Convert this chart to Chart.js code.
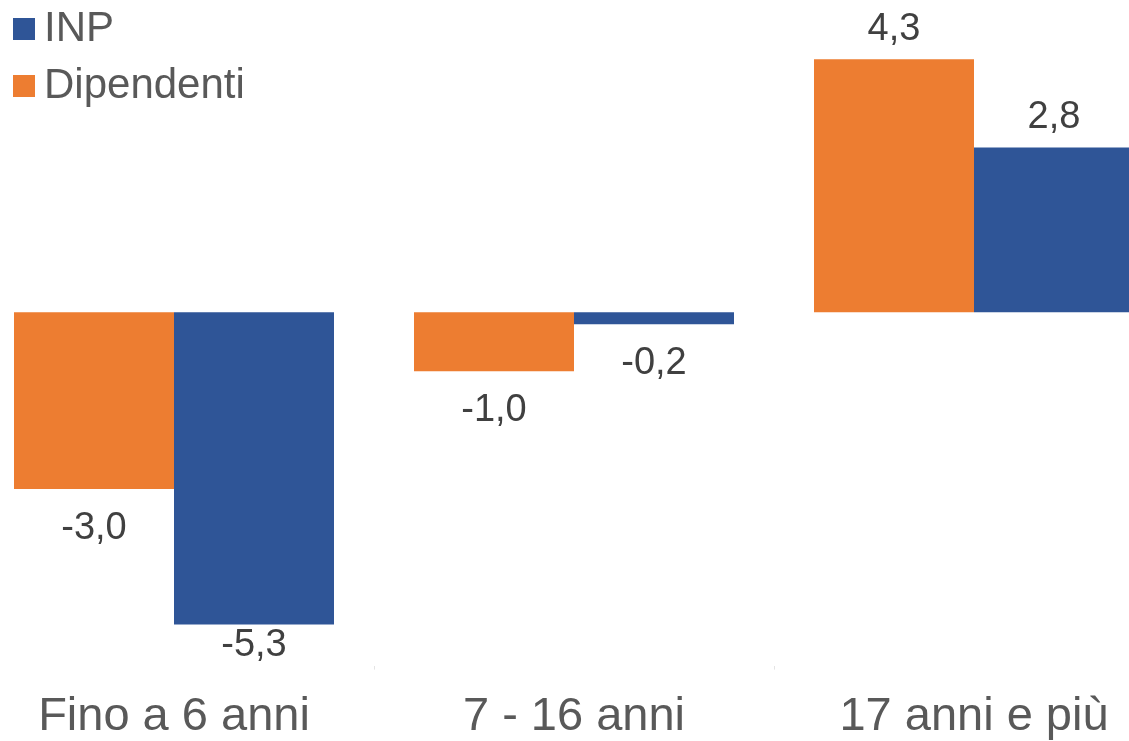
<!DOCTYPE html>
<html lang="it">
<head>
<meta charset="utf-8">
<title>Dipendenti e INP per classe di età</title>
<script src="https://cdn.jsdelivr.net/npm/chart.js@4.4.1/dist/chart.umd.min.js"></script>
<style>
  html, body { margin: 0; padding: 0; background: #fff; overflow: hidden; }
  #wrap { position: absolute; left: -26px; top: 0; width: 1200px; height: 764px; }
  #legend { position: absolute; left: 13px; top: 0; font-family: "Liberation Sans", Arial, sans-serif; font-size: 42px; color: #595959; }
  .voce { position: absolute; left: 0; height: 42px; line-height: 42px; white-space: nowrap; }
  .quadrato { position: absolute; left: 0; top: 12px; width: 22px; height: 22px; }
  .testo { position: absolute; left: 31px; top: 0; }
</style>
</head>
<body>
<div id="wrap"><canvas id="grafico"></canvas></div>
<div id="legend"></div>
<script>
// dati
const categorie = ['Fino a 6 anni', '7 - 16 anni', '17 anni e più']
const dipendenti = [-3.0, -1.0, 4.3]
const inp = [-5.3, -0.2, 2.8]
const coloreDipendenti = '#ED7D31'
const coloreInp = '#2F5597'

const font = '"Liberation Sans", Arial, sans-serif'
Chart.defaults.font.family = font

function formatta(v) {
    return v.toFixed(1).replace('.', ',')
}

// etichette dei valori sopra / sotto le barre
const etichette = {
    id: 'etichette',
    afterDatasetsDraw(chart) {
        const ctx = chart.ctx
        ctx.save()
        ctx.font = '38px ' + font
        ctx.fillStyle = '#404040'
        ctx.textAlign = 'center'
        ctx.textBaseline = 'alphabetic'
        chart.data.datasets.forEach((ds, i) => {
            chart.getDatasetMeta(i).data.forEach((bar, j) => {
                const v = ds.data[j]
                let y
                if (v >= 0) y = bar.y - 19.5
                else y = Math.min(bar.y + 50, chart.chartArea.bottom - 10)
                ctx.fillText(formatta(v), bar.x, y)
            })
        })
        ctx.restore()
    }
}

const chart = new Chart(document.getElementById('grafico'), {
    type: 'bar',
    data: {
        labels: categorie,
        datasets: [
            { label: 'Dipendenti', data: dipendenti, backgroundColor: coloreDipendenti, borderWidth: 0, barPercentage: 1, categoryPercentage: 0.8 },
            { label: 'INP', data: inp, backgroundColor: coloreInp, borderWidth: 0, barPercentage: 1, categoryPercentage: 0.8 }
        ]
    },
    options: {
        responsive: true,
        maintainAspectRatio: false,
        animation: false,
        layout: { padding: { top: 18, left: 0, right: 0, bottom: 0 } },
        plugins: {
            legend: { display: false },
            tooltip: { enabled: false }
        },
        scales: {
            x: {
                grid: { display: true, drawOnChartArea: false, tickLength: 4, color: '#e4e4e4' },
                border: { display: false },
                ticks: { color: '#595959', font: { size: 47 }, padding: 19, maxRotation: 0, autoSkip: false }
            },
            y: { display: false, min: -6, max: 5 }
        }
    },
    plugins: [etichette]
})

// legenda (INP prima, poi Dipendenti)
const legend = document.getElementById('legend')
chart.data.datasets.slice().reverse().forEach((ds, i) => {
    const voce = document.createElement('div')
    voce.className = 'voce'
    voce.style.top = (6 + i * 57) + 'px'
    voce.innerHTML = '<span class="quadrato" style="background:' + ds.backgroundColor + '"></span><span class="testo">' + ds.label + '</span>'
    legend.appendChild(voce)
})
</script>
</body>
</html>
